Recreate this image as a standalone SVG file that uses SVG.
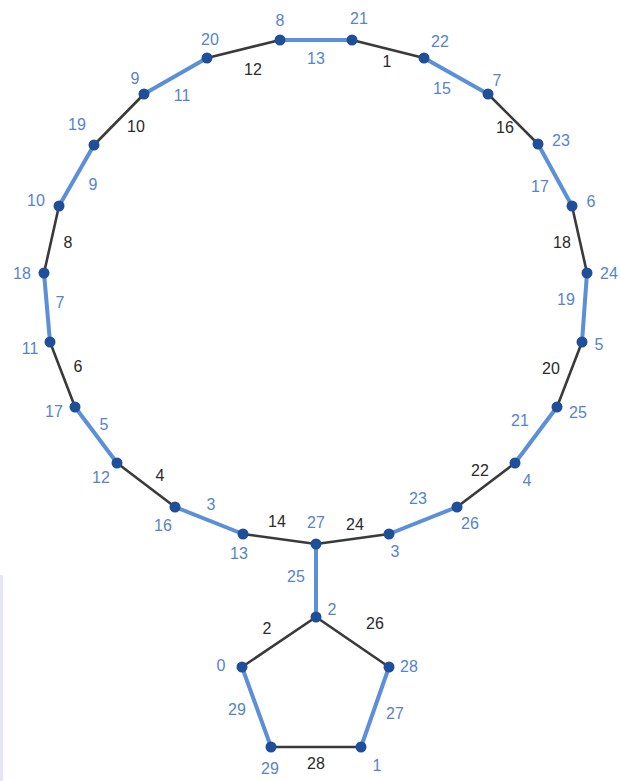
<svg xmlns="http://www.w3.org/2000/svg" width="621" height="781" viewBox="0 0 621 781">
<style>
.b{stroke:#5b8fd8;stroke-width:4;stroke-linecap:round}
.k{stroke:#3a3a3a;stroke-width:2.6;stroke-linecap:round}
.n{fill:#1f4f98}
text{font-family:"Liberation Sans",Arial,sans-serif;font-size:16px;text-anchor:middle;dominant-baseline:central}
.nl{fill:#5584cc}
.el{fill:#2a2a2a}
.ebl{fill:#5584cc}
</style>
<rect x="0" y="575" width="3" height="206" fill="#e6e6fa"/>
<g id="connectors">
<line class="b" x1="280" y1="40" x2="352" y2="40"/>
<line class="k" x1="352" y1="40" x2="424" y2="58"/>
<line class="b" x1="424" y1="58" x2="488" y2="94"/>
<line class="k" x1="488" y1="94" x2="538" y2="144"/>
<line class="b" x1="538" y1="144" x2="572" y2="206"/>
<line class="k" x1="572" y1="206" x2="587" y2="273"/>
<line class="b" x1="587" y1="273" x2="582" y2="342"/>
<line class="k" x1="582" y1="342" x2="557" y2="407"/>
<line class="b" x1="557" y1="407" x2="515" y2="463"/>
<line class="k" x1="515" y1="463" x2="457" y2="507"/>
<line class="b" x1="457" y1="507" x2="389" y2="534"/>
<line class="k" x1="389" y1="534" x2="316" y2="544"/>
<line class="k" x1="316" y1="544" x2="243" y2="534"/>
<line class="b" x1="243" y1="534" x2="175" y2="507"/>
<line class="k" x1="175" y1="507" x2="117" y2="463"/>
<line class="b" x1="117" y1="463" x2="75" y2="407"/>
<line class="k" x1="75" y1="407" x2="50" y2="342"/>
<line class="b" x1="50" y1="342" x2="44" y2="273"/>
<line class="k" x1="44" y1="273" x2="59" y2="206"/>
<line class="b" x1="59" y1="206" x2="94" y2="145"/>
<line class="k" x1="94" y1="145" x2="144" y2="94"/>
<line class="b" x1="144" y1="94" x2="207" y2="58"/>
<line class="k" x1="207" y1="58" x2="280" y2="40"/>
<line class="b" x1="316" y1="544" x2="316" y2="617"/>
<line class="k" x1="316" y1="617" x2="242" y2="667"/>
<line class="k" x1="316" y1="617" x2="389" y2="667"/>
<line class="b" x1="389" y1="667" x2="361" y2="747"/>
<line class="k" x1="361" y1="747" x2="271" y2="747"/>
<line class="b" x1="271" y1="747" x2="242" y2="667"/>
<text class="ebl" x="316" y="58">13</text>
<text class="el" x="387" y="61">1</text>
<text class="ebl" x="442" y="88">15</text>
<text class="el" x="505" y="127">16</text>
<text class="ebl" x="540" y="186">17</text>
<text class="el" x="562" y="242">18</text>
<text class="ebl" x="566" y="299">19</text>
<text class="el" x="551" y="368">20</text>
<text class="ebl" x="520" y="420">21</text>
<text class="el" x="480" y="470">22</text>
<text class="ebl" x="418" y="498">23</text>
<text class="el" x="355" y="524">24</text>
<text class="el" x="277" y="521">14</text>
<text class="ebl" x="211" y="504">3</text>
<text class="el" x="160" y="475">4</text>
<text class="ebl" x="104" y="424">5</text>
<text class="el" x="78" y="366">6</text>
<text class="ebl" x="60" y="302">7</text>
<text class="el" x="68" y="242">8</text>
<text class="ebl" x="93" y="184">9</text>
<text class="el" x="136" y="126">10</text>
<text class="ebl" x="182" y="95">11</text>
<text class="el" x="253" y="69">12</text>
<text class="ebl" x="296" y="576">25</text>
<text class="el" x="267" y="628">2</text>
<text class="el" x="375" y="623">26</text>
<text class="ebl" x="395" y="713">27</text>
<text class="el" x="316" y="763">28</text>
<text class="ebl" x="237" y="709">29</text>
</g>
<g id="node-8"><circle class="n" cx="280" cy="40" r="5.5"/><text class="nl" x="280" y="20">8</text></g>
<g id="node-21"><circle class="n" cx="352" cy="40" r="5.5"/><text class="nl" x="359" y="18">21</text></g>
<g id="node-22"><circle class="n" cx="424" cy="58" r="5.5"/><text class="nl" x="440" y="41">22</text></g>
<g id="node-7"><circle class="n" cx="488" cy="94" r="5.5"/><text class="nl" x="497" y="80">7</text></g>
<g id="node-23"><circle class="n" cx="538" cy="144" r="5.5"/><text class="nl" x="561" y="140">23</text></g>
<g id="node-6"><circle class="n" cx="572" cy="206" r="5.5"/><text class="nl" x="591" y="201">6</text></g>
<g id="node-24"><circle class="n" cx="587" cy="273" r="5.5"/><text class="nl" x="609" y="273">24</text></g>
<g id="node-5"><circle class="n" cx="582" cy="342" r="5.5"/><text class="nl" x="599" y="344">5</text></g>
<g id="node-25"><circle class="n" cx="557" cy="407" r="5.5"/><text class="nl" x="578" y="412">25</text></g>
<g id="node-4"><circle class="n" cx="515" cy="463" r="5.5"/><text class="nl" x="527" y="480">4</text></g>
<g id="node-26"><circle class="n" cx="457" cy="507" r="5.5"/><text class="nl" x="470" y="523">26</text></g>
<g id="node-3"><circle class="n" cx="389" cy="534" r="5.5"/><text class="nl" x="395" y="551">3</text></g>
<g id="node-27"><circle class="n" cx="316" cy="544" r="5.5"/><text class="nl" x="316" y="522">27</text></g>
<g id="node-13"><circle class="n" cx="243" cy="534" r="5.5"/><text class="nl" x="239" y="553">13</text></g>
<g id="node-16"><circle class="n" cx="175" cy="507" r="5.5"/><text class="nl" x="163" y="525">16</text></g>
<g id="node-12"><circle class="n" cx="117" cy="463" r="5.5"/><text class="nl" x="101" y="477">12</text></g>
<g id="node-17"><circle class="n" cx="75" cy="407" r="5.5"/><text class="nl" x="54" y="411">17</text></g>
<g id="node-11"><circle class="n" cx="50" cy="342" r="5.5"/><text class="nl" x="30" y="348">11</text></g>
<g id="node-18"><circle class="n" cx="44" cy="273" r="5.5"/><text class="nl" x="22" y="273">18</text></g>
<g id="node-10"><circle class="n" cx="59" cy="206" r="5.5"/><text class="nl" x="36" y="200">10</text></g>
<g id="node-19"><circle class="n" cx="94" cy="145" r="5.5"/><text class="nl" x="77" y="124">19</text></g>
<g id="node-9"><circle class="n" cx="144" cy="94" r="5.5"/><text class="nl" x="135" y="78">9</text></g>
<g id="node-20"><circle class="n" cx="207" cy="58" r="5.5"/><text class="nl" x="210" y="39">20</text></g>
<g id="node-2"><circle class="n" cx="316" cy="617" r="5.5"/><text class="nl" x="332" y="609">2</text></g>
<g id="node-0"><circle class="n" cx="242" cy="667" r="5.5"/><text class="nl" x="221" y="665">0</text></g>
<g id="node-28"><circle class="n" cx="389" cy="667" r="5.5"/><text class="nl" x="409" y="666">28</text></g>
<g id="node-29"><circle class="n" cx="271" cy="747" r="5.5"/><text class="nl" x="270" y="768">29</text></g>
<g id="node-1"><circle class="n" cx="361" cy="747" r="5.5"/><text class="nl" x="377" y="765">1</text></g>
</svg>
